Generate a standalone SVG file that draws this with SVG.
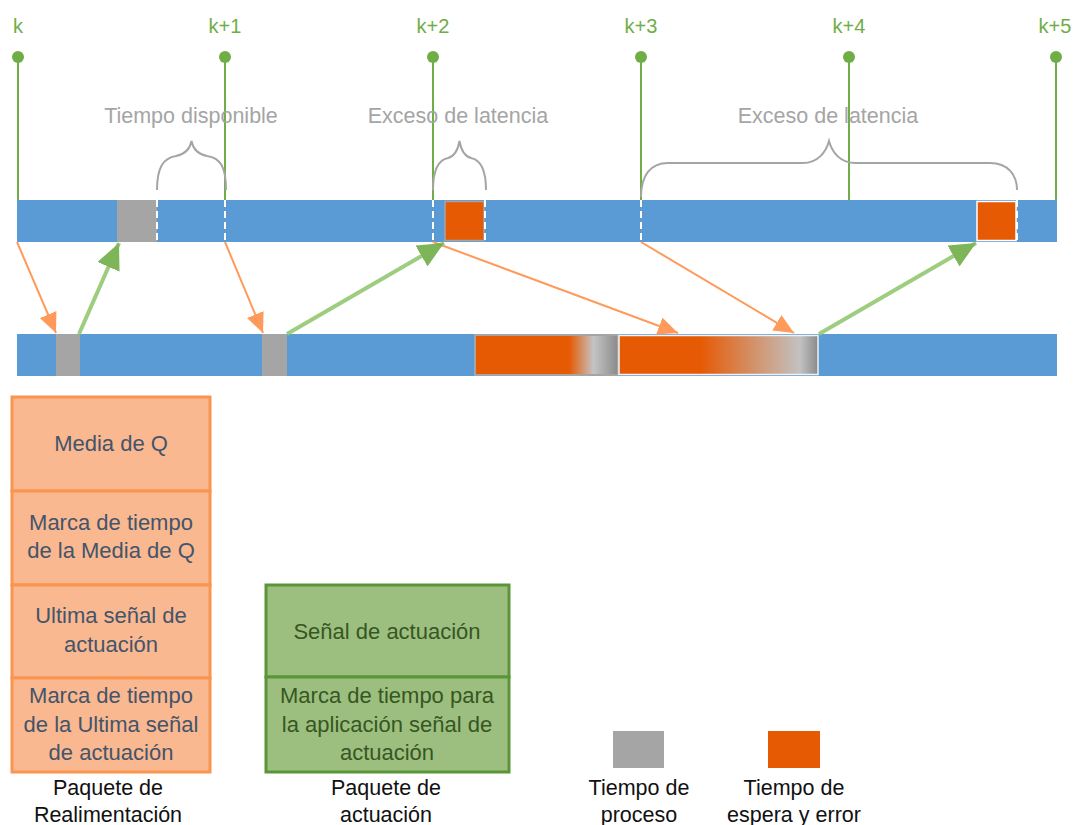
<svg xmlns="http://www.w3.org/2000/svg" width="1073" height="825" viewBox="0 0 1073 825">
<style>
text{font-family:"Liberation Sans",Arial,sans-serif;text-anchor:middle}
.tick{font-size:20px;fill:#70AD47}
.tl{stroke:#70AD47;stroke-width:2}
.dot{fill:#70AD47}
.gl{font-size:21.5px;fill:#A5A5A5}
.brace{fill:none;stroke:#A5A5A5;stroke-width:2}
.bar{fill:#5B9BD5}
.proc{fill:#A5A5A5}
.wait{fill:#E65A04}
.dash{stroke:#fff;stroke-width:2;stroke-dasharray:7 4}
.oa{stroke:#FF9A5B;stroke-width:2;fill:none;marker-end:url(#oh)}
.ga{stroke:#95C873;stroke-width:4;fill:none;marker-end:url(#gh);opacity:0.9}
.ob{fill:#F9B890;stroke:#FA9550;stroke-width:3}
.gb{fill:#9CBF7F;stroke:#5A9638;stroke-width:3}
.bt{font-size:22px;fill:#44546A}
.gt{font-size:22px;fill:#375623}
.lb{font-size:21.5px;fill:#111}
</style>
<defs>
<marker id="oh" markerUnits="userSpaceOnUse" viewBox="0 0 20 18" refX="20" refY="9" markerWidth="20" markerHeight="18" orient="auto">
<path d="M0,0 L20,9 L0,18 Z" fill="#FF9A5B"/>
</marker>
<marker id="gh" markerUnits="userSpaceOnUse" viewBox="0 0 26 24" refX="26" refY="12" markerWidth="26" markerHeight="24" orient="auto">
<path d="M0,0 L26,12 L0,24 Z" fill="#70AD47"/>
</marker>
<linearGradient id="gA" x1="0" x2="1" y1="0" y2="0">
<stop offset="0" stop-color="#E65A04"/>
<stop offset="0.66" stop-color="#E65A04"/>
<stop offset="0.83" stop-color="#C4C4C4"/>
<stop offset="1" stop-color="#8A8A8A"/>
</linearGradient>
<linearGradient id="gB" x1="0" x2="1" y1="0" y2="0">
<stop offset="0" stop-color="#E65A04"/>
<stop offset="0.41" stop-color="#E65A04"/>
<stop offset="0.91" stop-color="#C2C2C2"/>
<stop offset="1" stop-color="#8A8A8A"/>
</linearGradient>
</defs>

<g id="timeline-top">
<rect class="bar" x="17" y="200" width="1040" height="42"/>
<rect class="proc" x="117" y="200" width="40" height="42"/>
<rect class="wait" x="445" y="201.5" width="39" height="39" stroke="#A5A5A5" stroke-width="1.5"/>
<rect class="wait" x="977" y="201.5" width="39" height="39" stroke="#FFFFFF" stroke-width="1.5"/>
<line class="dash" x1="157" y1="200" x2="157" y2="242"/>
<line class="dash" x1="225" y1="200" x2="225" y2="242"/>
<line class="dash" x1="433" y1="200" x2="433" y2="242"/>
<line class="dash" x1="485" y1="200" x2="485" y2="242"/>
<line class="dash" x1="641" y1="200" x2="641" y2="242"/>
<line class="dash" x1="1017" y1="200" x2="1017" y2="242"/>
</g>

<g id="ticks">
<line class="tl" x1="18" y1="57" x2="18" y2="200"/>
<line class="tl" x1="225" y1="57" x2="225" y2="200"/>
<line class="tl" x1="433" y1="57" x2="433" y2="200"/>
<line class="tl" x1="641" y1="57" x2="641" y2="200"/>
<line class="tl" x1="849" y1="57" x2="849" y2="200"/>
<line class="tl" x1="1056" y1="57" x2="1056" y2="200"/>
<circle class="dot" cx="18" cy="57" r="6"/>
<circle class="dot" cx="225" cy="57" r="6"/>
<circle class="dot" cx="433" cy="57" r="6"/>
<circle class="dot" cx="641" cy="57" r="6"/>
<circle class="dot" cx="849" cy="57" r="6"/>
<circle class="dot" cx="1056" cy="57" r="6"/>
<text class="tick" x="18" y="33">k</text>
<text class="tick" x="225" y="33">k+1</text>
<text class="tick" x="433" y="33">k+2</text>
<text class="tick" x="641" y="33">k+3</text>
<text class="tick" x="849" y="33">k+4</text>
<text class="tick" x="1055" y="33">k+5</text>
</g>

<g id="braces">
<path class="brace" d="M157,190 C157,168 163,158 176,156 C186,154 190,149 191.5,141 C193,149 197,154 207,156 C220,158 226,166 226,190"/>
<path class="brace" d="M433,190 C433,170 438,160 448,158 C455,156 458,150 459.5,141 C461,150 464,156 471,158 C481,160 486,170 486,190"/>
<path class="brace" d="M641,197 C641,176 650,163 668,163 L803,163 C818,163 826,152 829,141 C832,152 840,163 855,163 L990,163 C1008,163 1017,175 1017,190"/>
<text class="gl" x="191" y="123">Tiempo disponible</text>
<text class="gl" x="458" y="123">Exceso de latencia</text>
<text class="gl" x="828" y="123">Exceso de latencia</text>
</g>

<g id="timeline-bottom">
<rect class="bar" x="17" y="334" width="1040" height="42"/>
<rect class="proc" x="56" y="334" width="24" height="42"/>
<rect class="proc" x="262" y="334" width="25" height="42"/>
<rect x="475" y="335" width="143" height="40" fill="url(#gA)" stroke="#A5A5A5" stroke-width="2"/>
<rect x="619" y="335.5" width="199" height="39" fill="url(#gB)" stroke="#F2F2F2" stroke-width="1.5"/>
</g>

<g id="connectors">
<line class="oa" x1="17" y1="242" x2="56" y2="333"/>
<line class="oa" x1="225" y1="242" x2="263" y2="333"/>
<line class="oa" x1="433" y1="242" x2="678" y2="333"/>
<line class="oa" x1="641" y1="242" x2="794" y2="333"/>
<line class="ga" x1="79" y1="334" x2="119" y2="243"/>
<line class="ga" x1="287" y1="334" x2="444" y2="243"/>
<line class="ga" x1="819" y1="334" x2="976" y2="243"/>
</g>

<g id="paquete-realimentacion">
<rect class="ob" x="12" y="397" width="198" height="94"/>
<rect class="ob" x="12" y="491" width="198" height="94"/>
<rect class="ob" x="12" y="585" width="198" height="93"/>
<rect class="ob" x="12" y="678" width="198" height="94"/>
<text class="bt" x="111" y="451">Media de Q</text>
<text class="bt" x="111" y="530">Marca de tiempo</text>
<text class="bt" x="111" y="558">de la Media de Q</text>
<text class="bt" x="111" y="623">Ultima señal de</text>
<text class="bt" x="111" y="652">actuación</text>
<text class="bt" x="111" y="703">Marca de tiempo</text>
<text class="bt" x="111" y="732">de la Ultima señal</text>
<text class="bt" x="111" y="760">de actuación</text>
<text class="lb" x="108" y="795">Paquete de</text>
<text class="lb" x="108" y="822">Realimentación</text>
</g>

<g id="paquete-actuacion">
<rect class="gb" x="266" y="585" width="243" height="92"/>
<rect class="gb" x="266" y="677" width="243" height="95"/>
<text class="gt" x="387" y="639">Señal de actuación</text>
<text class="gt" x="387" y="703">Marca de tiempo para</text>
<text class="gt" x="387" y="732">la aplicación señal de</text>
<text class="gt" x="387" y="760">actuación</text>
<text class="lb" x="386" y="795">Paquete de</text>
<text class="lb" x="386" y="822">actuación</text>
</g>

<g id="legend-proceso">
<rect class="proc" x="613" y="731" width="51" height="37"/>
<text class="lb" x="639" y="795">Tiempo de</text>
<text class="lb" x="639" y="822">proceso</text>
</g>

<g id="legend-espera">
<rect class="wait" x="768" y="731" width="52" height="37"/>
<text class="lb" x="794" y="795">Tiempo de</text>
<text class="lb" x="794" y="822">espera y error</text>
</g>
</svg>
